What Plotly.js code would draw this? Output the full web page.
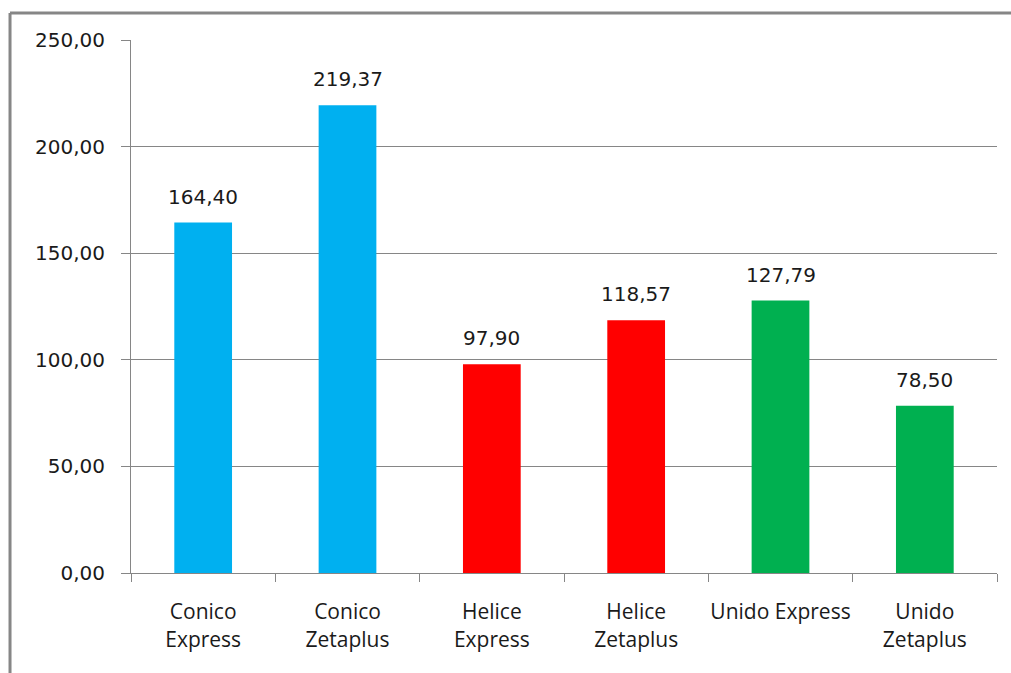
<!DOCTYPE html>
<html><head><meta charset="utf-8">
<script src="https://cdn.plot.ly/plotly-3.0.1.min.js"></script>
<style>html,body{margin:0;padding:0;background:#fff;}#chart{width:1011px;height:673px;}</style>
</head><body><div id="chart"></div>
<script>
const categories = ["Conico<br>Express","Conico<br>Zetaplus","Helice<br>Express","Helice<br>Zetaplus","Unido Express","Unido<br>Zetaplus"];
const values = [164.40, 219.37, 97.90, 118.57, 127.79, 78.50];
const barColors = ["#00B0F0","#00B0F0","#FF0000","#FF0000","#00B050","#00B050"];
const yTicks = [0,50,100,150,200,250];

const fmt = v => v.toFixed(2).replace('.', ',');

const trace = {
  type: 'bar', x: categories, y: values,
  marker: {color: barColors},
  hoverinfo: 'none'
};

const annotations = categories.map((c,i)=>({
  x: c, y: values[i], xref:'x', yref:'y', text: fmt(values[i]),
  showarrow:false, yanchor:'bottom', yshift: 12,
  font:{family:'DejaVu Sans', size:20, color:'#1a1a1a'}
}));

const layout = {
  width:1011, height:673,
  margin:{l:131, r:14, t:40, b:100},
  paper_bgcolor:'#fff', plot_bgcolor:'#fff',
  separators: ',.',
  showlegend:false,
  bargap:0.6,
  xaxis:{
    type:'category', tickson:'boundaries', ticks:'outside', ticklen:8, tickcolor:'#868686',
    showline:true, linecolor:'#868686', linewidth:1, showgrid:false,
    tickangle:0, ticklabelstandoff:20,
    tickfont:{family:'Open Sans', size:21, color:'#1a1a1a'}
  },
  yaxis:{
    range:[0,250], tickvals:yTicks, tickformat:'.2f', ticks:'outside', ticklen:9, tickcolor:'#868686',
    showline:true, linecolor:'#868686', linewidth:1, showgrid:true, gridcolor:'#868686', gridwidth:1,
    zeroline:false, ticklabelstandoff:12,
    tickfont:{family:'DejaVu Sans', size:20, color:'#1a1a1a'}
  },
  annotations: annotations,
  shapes:[
    {type:'line', xref:'paper', yref:'paper', x0:-0.1397, x1:1.03, y0:1.0507, y1:1.0507, line:{color:'#868686', width:3}},
    {type:'line', xref:'paper', yref:'paper', x0:-0.1397, x1:-0.1397, y0:1.0507, y1:-0.2, line:{color:'#868686', width:3}}
  ]
};
Plotly.newPlot('chart',[trace],layout,{staticPlot:true});
</script></body></html>
